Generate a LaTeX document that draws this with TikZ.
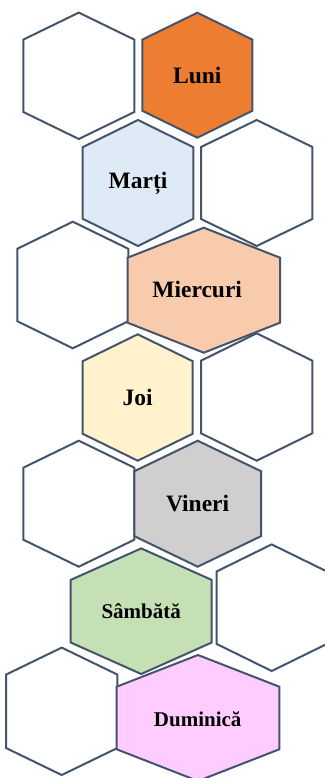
\documentclass[tikz,border=0pt]{standalone}
\usepackage{fontspec}
\setmainfont{Liberation Serif}
\usepackage{xcolor}
\usepackage{tikz}
\definecolor{edge}{HTML}{44546A}
\definecolor{luni}{HTML}{ED7D31}
\definecolor{marti}{HTML}{DEEBF7}
\definecolor{miercuri}{HTML}{F8CBAD}
\definecolor{joi}{HTML}{FFF2CC}
\definecolor{vineri}{HTML}{D0CECE}
\definecolor{sambata}{HTML}{C5E0B4}
\definecolor{duminica}{HTML}{FFCCFF}
\tikzset{
  cell/.style={draw=edge, fill=white, line width=2pt, line join=miter},
  day/.style={font=\bfseries\fontsize{23.5}{28}\selectfont, text=black, inner sep=0pt},
  dayw/.style={font=\bfseries\fontsize{21}{25}\selectfont, text=black, inner sep=0pt},
}
% centre x, centre y, half width, half height, half side
\newcommand{\hexcell}[6]{%
  \draw[cell,#1] (#2,#3-#5) -- (#2+#4,#3-#6) -- (#2+#4,#3+#6) -- (#2,#3+#5)
    -- (#2-#4,#3+#6) -- (#2-#4,#3-#6) -- cycle;}

\begin{document}
\begin{tikzpicture}[x=1pt,y=-1pt]
  \useasboundingbox (0,0) rectangle (324,778);
  \hexcell{}{78.8}{75.8}{55.5}{63.2}{36.2}
  \hexcell{fill=luni}{197.3}{75.2}{55}{62.5}{35.6}
  \hexcell{fill=marti}{138}{183}{55.3}{63}{35.8}
  \hexcell{}{256.7}{183}{55.7}{63}{36}
  \hexcell{}{72.8}{285}{55.5}{63.3}{36.2}
  \hexcell{fill=miercuri}{203.8}{290.2}{76.2}{62.5}{32.5}
  \hexcell{fill=joi}{137.7}{397.5}{55}{63.2}{36.3}
  \hexcell{}{256.7}{397}{55.7}{63.7}{36.3}
  \hexcell{}{78.8}{503.7}{55.5}{63}{36}
  \hexcell{fill=vineri}{197.7}{503.7}{63.3}{63}{32.5}
  \hexcell{fill=sambata}{141.2}{611.2}{70.5}{62.8}{31.3}
  \hexcell{}{271.7}{607.7}{55}{63.3}{36.3}
  \hexcell{}{61.7}{711.3}{55.7}{63.7}{36.7}
  \hexcell{fill=duminica}{198}{718}{81.3}{63}{31.3}
  \node[day] (luni) at (197.3,75.2) {Luni};
  \node[day] (marti) at (138,183) {Marți};
  \node[day] (miercuri) at (197.2,289.5) {Miercuri};
  \node[day] (joi) at (137.7,397) {Joi};
  \node[day] (vineri) at (197.6,503.3) {Vineri};
  \node[dayw] (sambata) at (141.2,611.5) {Sâmbătă};
  \node[dayw] (duminica) at (197.7,718.8) {Duminică};
\end{tikzpicture}
\end{document}
